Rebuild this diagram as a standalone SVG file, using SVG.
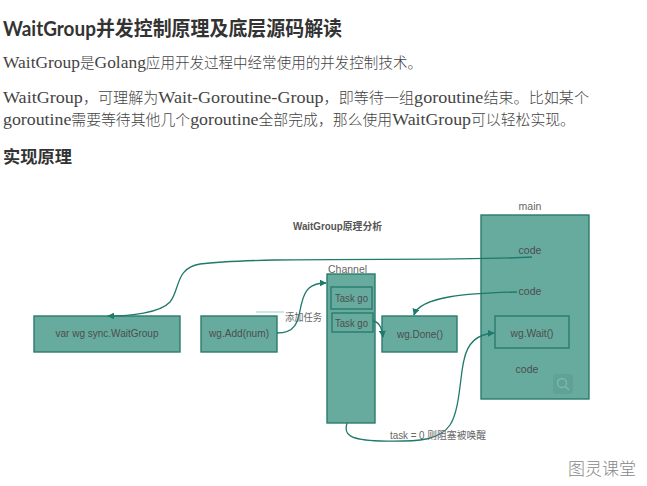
<svg xmlns="http://www.w3.org/2000/svg" width="647" height="486" viewBox="0 0 647 486">
<style>
.h{font-family:"Lato","Noto Sans CJK SC",sans-serif;font-weight:bold;fill:#333}
.hc{font-family:"Noto Sans CJK SC",sans-serif;font-weight:bold}
.p{font-family:"Liberation Serif","Noto Sans CJK SC",serif;font-size:17.5px;fill:#444}
.c{font-family:"Noto Sans CJK SC",sans-serif;font-size:14.6px;font-weight:300}
.box{fill:#67ab9f;stroke:#2b7b6d;stroke-width:1.4}
.t{font-family:"Liberation Sans","Noto Sans CJK SC",sans-serif;font-size:10.5px;fill:#4d4d4d}
.lbl{font-family:"Liberation Sans","Noto Sans CJK SC",sans-serif;font-size:10.5px;fill:#666}
.ln{fill:none;stroke:#1f7a6b;stroke-width:1.3}
</style>
<defs>
<marker id="ah" viewBox="0 0 10 10" refX="9" refY="5" markerWidth="7" markerHeight="7" markerUnits="userSpaceOnUse" orient="auto">
<path d="M0,0 L10,5 L0,10 z" fill="#1f7a6b"/>
</marker>
</defs>
<rect width="647" height="486" fill="#ffffff"/>

<text class="h" x="3" y="36" font-size="20" textLength="339" lengthAdjust="spacingAndGlyphs">WaitGroup<tspan class="hc">并发控制原理及底层源码解读</tspan></text>
<text class="p" x="3" y="68" textLength="419" lengthAdjust="spacingAndGlyphs">WaitGroup<tspan class="c">是</tspan>Golang<tspan class="c">应用开发过程中经常使用的并发控制技术。</tspan></text>
<text class="p" x="3" y="103" textLength="586" lengthAdjust="spacingAndGlyphs">WaitGroup<tspan class="c">，可理解为</tspan>Wait-Goroutine-Group<tspan class="c">，即等待一组</tspan>goroutine<tspan class="c">结束。比如某个</tspan></text>
<text class="p" x="3" y="125" textLength="572" lengthAdjust="spacingAndGlyphs">goroutine<tspan class="c">需要等待其他几个</tspan>goroutine<tspan class="c">全部完成，那么使用</tspan>WaitGroup<tspan class="c">可以轻松实现。</tspan></text>
<text class="h" x="3" y="163" font-size="17" textLength="69" lengthAdjust="spacingAndGlyphs"><tspan class="hc">实现原理</tspan></text>

<text x="293" y="230" font-family="Liberation Sans,Noto Sans CJK SC,sans-serif" font-size="10" font-weight="bold" fill="#555" textLength="89" lengthAdjust="spacingAndGlyphs">WaitGroup原理分析</text>

<g id="main">
<text class="lbl" x="530" y="210" text-anchor="middle">main</text>
<rect class="box" x="481" y="215" width="108" height="184"/>
<text class="t" x="530" y="254" text-anchor="middle">code</text>
<text class="t" x="530" y="295" text-anchor="middle">code</text>
<text class="t" x="527" y="373" text-anchor="middle">code</text>
<rect x="553" y="374" width="20" height="20" rx="3" fill="#5e9f93" opacity="0.7"/>
<circle cx="562" cy="383" r="4.5" fill="none" stroke="#80b8ad" stroke-width="1.3"/>
<line x1="565.5" y1="386.5" x2="569" y2="390" stroke="#80b8ad" stroke-width="1.5"/>
</g>
<g id="wgwait">
<rect class="box" x="495" y="316" width="74" height="32"/>
<text class="t" x="532" y="337" text-anchor="middle" textLength="43" lengthAdjust="spacingAndGlyphs">wg.Wait()</text>
</g>
<g id="varwg">
<rect class="box" x="34" y="316" width="146" height="36"/>
<text class="t" x="107" y="337" text-anchor="middle" textLength="103" lengthAdjust="spacingAndGlyphs">var wg sync.WaitGroup</text>
</g>
<g id="wgadd">
<rect class="box" x="201" y="316" width="76" height="36"/>
<text class="t" x="239" y="337" text-anchor="middle" textLength="60" lengthAdjust="spacingAndGlyphs">wg.Add(num)</text>
</g>
<g id="channel">
<text class="lbl" x="328" y="273">Channel</text>
<rect class="box" x="327" y="274" width="48" height="149"/>
</g>
<g id="task1">
<rect class="box" x="331" y="287" width="41" height="22"/>
<text class="t" x="335" y="302" textLength="33" lengthAdjust="spacingAndGlyphs">Task go</text>
</g>
<g id="task2">
<rect class="box" x="332" y="313" width="41" height="19"/>
<text class="t" x="335" y="327" textLength="33" lengthAdjust="spacingAndGlyphs">Task go</text>
</g>
<g id="wgdone">
<rect class="box" x="382" y="316" width="75" height="36"/>
<text class="t" x="420" y="338" text-anchor="middle" textLength="46" lengthAdjust="spacingAndGlyphs">wg.Done()</text>
</g>

<g id="connectors">
<path class="ln" marker-end="url(#ah)" d="M532,257 C450,262 260,256 200,264 C175,268 180,290 170,302 C160,313 130,316 108,316"/>
<line x1="256" y1="312" x2="284" y2="312" stroke="#9fcfc6" stroke-width="1"/>
<path class="ln" marker-end="url(#ah)" d="M277,333 C300,333 298,315 302,302 C305,290 310,283 326,283"/>
<path class="ln" marker-end="url(#ah)" d="M373,321 C379,322 382,327 383,337"/>
<path class="ln" marker-end="url(#ah)" d="M517,292 C470,293 420,296 414,315"/>
<path class="ln" marker-end="url(#ah)" d="M347,423 C343,435 350,440 380,441 C420,442 440,440 450,425 C460,410 460,375 464,360 C467,345 475,334 494,333"/>
<text class="lbl" x="285" y="321" textLength="37" lengthAdjust="spacingAndGlyphs">添加任务</text>
<text class="lbl" x="390" y="439" textLength="96" lengthAdjust="spacingAndGlyphs">task = 0 则阻塞被唤醒</text>
</g>

<text x="568" y="475" font-family="Noto Sans CJK SC,sans-serif" font-size="17" font-weight="300" fill="#888">图灵课堂</text>
</svg>
